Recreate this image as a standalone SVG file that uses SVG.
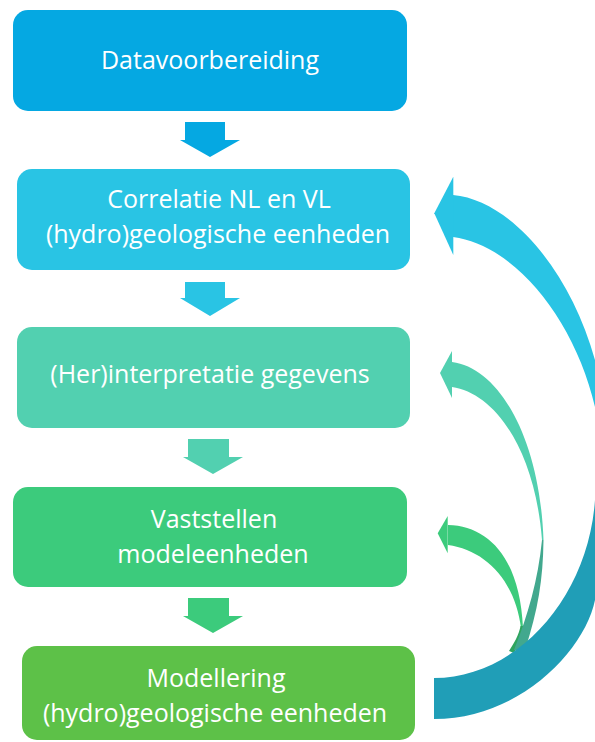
<svg xmlns="http://www.w3.org/2000/svg" width="595" height="742" viewBox="0 0 595 742">
<style>
.t{font-family:"Open Sans","Liberation Sans",sans-serif;font-size:25px;fill:#FFFFFF;text-anchor:middle}
</style>
<rect width="595" height="742" fill="#FFFFFF"/>
<g id="node-datavoorbereiding">
<rect x="13" y="10" width="394" height="101" rx="15" fill="#05A8E2"/>
<text class="t" x="210" y="69">Datavoorbereiding</text>
</g>
<g id="node-correlatie">
<rect x="17" y="169" width="393" height="101" rx="15" fill="#29C4E4"/>
<text class="t" x="219" y="208">Correlatie NL en VL</text>
<text class="t" x="218" y="243">(hydro)geologische eenheden</text>
</g>
<g id="node-herinterpretatie">
<rect x="17" y="327" width="393" height="101" rx="15" fill="#52D0B0"/>
<text class="t" x="210" y="383">(Her)interpretatie gegevens</text>
</g>
<g id="node-vaststellen">
<rect x="13" y="487" width="394" height="100" rx="15" fill="#3CCB7C"/>
<text class="t" x="214" y="528">Vaststellen</text>
<text class="t" x="213" y="563">modeleenheden</text>
</g>
<g id="node-modellering">
<rect x="22" y="646" width="393" height="94" rx="15" fill="#5DC148"/>
<text class="t" x="216" y="687">Modellering</text>
<text class="t" x="215" y="722">(hydro)geologische eenheden</text>
</g>
<g id="connectors">
<polygon points="185,122 225,122 225,140 240,140 210,157 180,140 185,140" fill="#05A8E2"/>
<polygon points="185,282 225,282 225,298 240,298 210,316 180,298 185,298" fill="#29C4E4"/>
<polygon points="188,439 229,439 229,457 243,457 213,474 183,457 188,457" fill="#52D0B0"/>
<polygon points="188,598 229,598 229,616 243,616 213,633 183,616 188,616" fill="#3CCB7C"/>
<g id="loop-green">
<path d="M448,525 C490,526 520,560 523,628 L521,628 C515,580 485,550 448,545 Z" fill="#3CCB7C"/>
<polygon points="437.7,533.3 447.7,516 447.7,553.3" fill="#3CCB7C"/>
<path d="M523,626 C523,636 519,645 514,653 L509,651 C514,643 519,635 520.5,626 Z" fill="#2FA55E"/>
</g>
<g id="loop-mint">
<path d="M452,362 C500,368 540,440 543.5,540 L542,540 C535,450 495,393 452,387 Z" fill="#52D0B0"/>
<polygon points="440,373 452,351 452,398" fill="#52D0B0"/>
<path d="M543.5,540 C543,580 538,610 525,650 L514,650 C528,615 538,580 542,540 Z" fill="#42A88E"/>
</g>
<g id="loop-blue">
<path d="M453,195 C510,200 570,270 595,360 L595,407 C575,320 515,245 453,237 Z" fill="#29C4E4"/>
<polygon points="434.3,213.3 453.3,176.7 453.3,255" fill="#29C4E4"/>
<path d="M595,500 C588,600 515,678 434,678 L434,719 C520,719 585,650 595,600 Z" fill="#209EB7"/>
</g>
</g>
</svg>
